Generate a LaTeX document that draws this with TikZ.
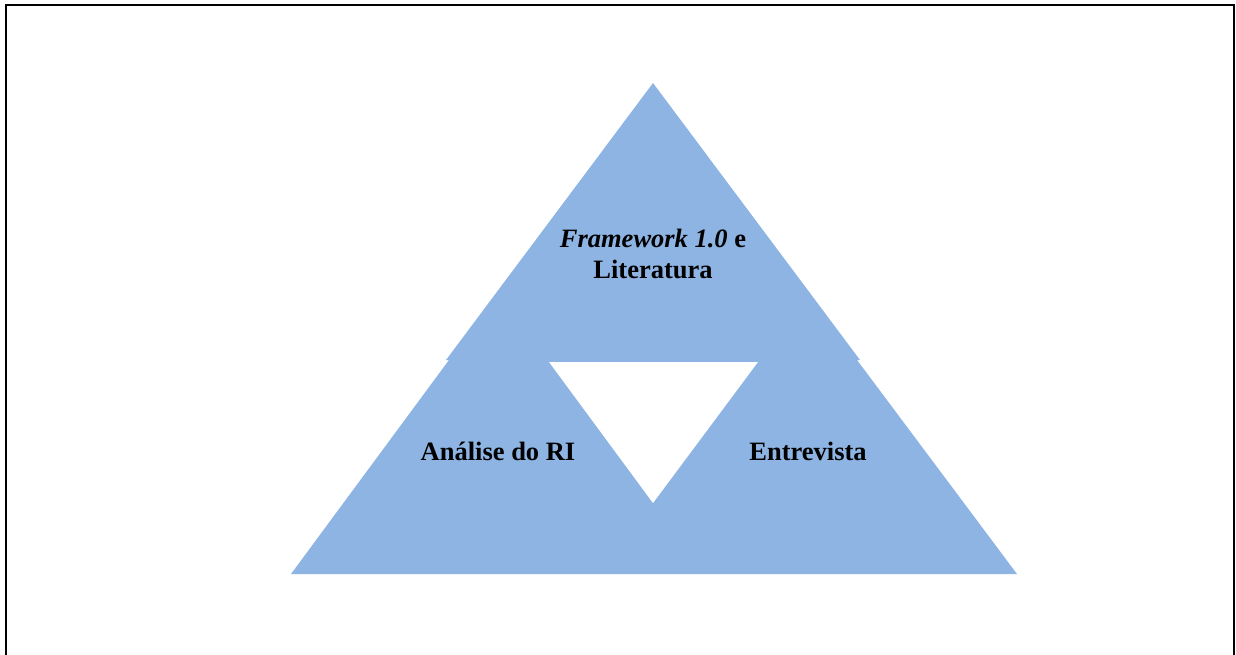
\documentclass[tikz,border=0pt]{standalone}
\usepackage{fontspec}
\setmainfont{Liberation Serif}
\definecolor{triblue}{HTML}{8EB4E3}
\begin{document}
\begin{tikzpicture}[x=1pt,y=-1pt,
  tri/.style={fill=triblue,draw=none},
  lbl/.style={font=\fontsize{26.5}{31}\selectfont\bfseries,align=center,inner sep=0pt,text=black}]
\useasboundingbox (0,0) rectangle (1236,654);
\draw[line width=2pt] (6,660) -- (6,4.5) -- (1234,4.5) -- (1234,660);
% outer triangle made of the three parts
\fill[tri] (653,83) -- (860,360) -- (857,360) -- (1017,574) -- (291,574) -- (449,360) -- (446,360) -- cycle;
% inner white triangle
\fill[white] (549,362) -- (758,362) -- (653,503) -- cycle;
\node[lbl] (top) at (653,254) {\textit{Framework 1.0} e\\Literatura};
\node[lbl] (left) at (498,451) {Análise do RI};
\node[lbl] (right) at (808,451) {Entrevista};
\end{tikzpicture}
\end{document}
